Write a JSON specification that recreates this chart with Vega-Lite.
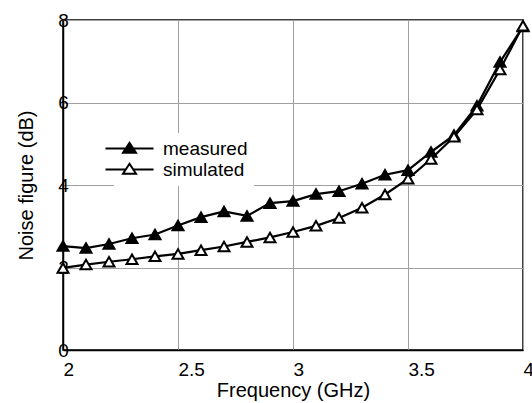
{
  "$schema": "https://vega.github.io/schema/vega-lite/v6.json",
  "width": 460,
  "height": 330,
  "autosize": {"type": "none"},
  "padding": {"left": 63, "top": 20, "right": 9, "bottom": 53},
  "background": "white",
  "config": {
    "view": {"stroke": "black", "strokeWidth": 1.5},
    "font": "Liberation Sans",
    "axis": {
      "labelFont": "Liberation Sans",
      "titleFont": "Liberation Sans",
      "labelColor": "black",
      "titleColor": "black",
      "titleFontWeight": "normal",
      "domainColor": "black",
      "domainWidth": 1.5,
      "gridColor": "#a0a0a0",
      "gridWidth": 1,
      "ticks": false,
      "tickSize": 0,
      "labelFlush": false,
      "labelOverlap": false,
      "labelBound": false
    }
  },
  "data": {
    "values": [
      {"f": 2.0, "nf": 2.52, "series": "measured"},
      {"f": 2.1, "nf": 2.47, "series": "measured"},
      {"f": 2.2, "nf": 2.57, "series": "measured"},
      {"f": 2.3, "nf": 2.71, "series": "measured"},
      {"f": 2.4, "nf": 2.80, "series": "measured"},
      {"f": 2.5, "nf": 3.02, "series": "measured"},
      {"f": 2.6, "nf": 3.22, "series": "measured"},
      {"f": 2.7, "nf": 3.36, "series": "measured"},
      {"f": 2.8, "nf": 3.25, "series": "measured"},
      {"f": 2.9, "nf": 3.56, "series": "measured"},
      {"f": 3.0, "nf": 3.61, "series": "measured"},
      {"f": 3.1, "nf": 3.78, "series": "measured"},
      {"f": 3.2, "nf": 3.85, "series": "measured"},
      {"f": 3.3, "nf": 4.03, "series": "measured"},
      {"f": 3.4, "nf": 4.25, "series": "measured"},
      {"f": 3.5, "nf": 4.36, "series": "measured"},
      {"f": 3.6, "nf": 4.80, "series": "measured"},
      {"f": 3.7, "nf": 5.21, "series": "measured"},
      {"f": 3.8, "nf": 5.92, "series": "measured"},
      {"f": 3.9, "nf": 6.98, "series": "measured"},
      {"f": 4.0, "nf": 7.84, "series": "measured"},
      {"f": 2.0, "nf": 1.99, "series": "simulated"},
      {"f": 2.1, "nf": 2.07, "series": "simulated"},
      {"f": 2.2, "nf": 2.14, "series": "simulated"},
      {"f": 2.3, "nf": 2.20, "series": "simulated"},
      {"f": 2.4, "nf": 2.27, "series": "simulated"},
      {"f": 2.5, "nf": 2.33, "series": "simulated"},
      {"f": 2.6, "nf": 2.42, "series": "simulated"},
      {"f": 2.7, "nf": 2.51, "series": "simulated"},
      {"f": 2.8, "nf": 2.62, "series": "simulated"},
      {"f": 2.9, "nf": 2.73, "series": "simulated"},
      {"f": 3.0, "nf": 2.86, "series": "simulated"},
      {"f": 3.1, "nf": 3.01, "series": "simulated"},
      {"f": 3.2, "nf": 3.20, "series": "simulated"},
      {"f": 3.3, "nf": 3.45, "series": "simulated"},
      {"f": 3.4, "nf": 3.77, "series": "simulated"},
      {"f": 3.5, "nf": 4.15, "series": "simulated"},
      {"f": 3.6, "nf": 4.63, "series": "simulated"},
      {"f": 3.7, "nf": 5.17, "series": "simulated"},
      {"f": 3.8, "nf": 5.83, "series": "simulated"},
      {"f": 3.9, "nf": 6.80, "series": "simulated"},
      {"f": 4.0, "nf": 7.86, "series": "simulated"}
    ]
  },
  "encoding": {
    "x": {
      "field": "f",
      "type": "quantitative",
      "scale": {"domain": [2, 4], "nice": false},
      "axis": {
        "values": [2, 2.5, 3, 3.5, 4],
        "format": "~g",
        "labelAlign": "left",
        "labelBaseline": "alphabetic",
        "labelPadding": 25,
        "labelFontSize": 19,
        "title": "Frequency (GHz)",
        "titleFontSize": 20,
        "titleBaseline": "alphabetic",
        "titleY": 46
      }
    },
    "y": {
      "field": "nf",
      "type": "quantitative",
      "scale": {"domain": [0, 8], "nice": false},
      "axis": {
        "values": [0, 2, 4, 6, 8],
        "labelAlign": "center",
        "labelBaseline": "middle",
        "labelPadding": 0,
        "labelFontSize": 19,
        "title": "Noise figure (dB)",
        "titleFontSize": 20,
        "titleAngle": 270,
        "titleAlign": "center",
        "titleBaseline": "alphabetic",
        "titleX": -31,
        "titleY": 165
      }
    }
  },
  "layer": [
    {
      "mark": {"type": "line", "stroke": "black", "strokeWidth": 2.2},
      "encoding": {"detail": {"field": "series"}}
    },
    {
      "mark": {"type": "point", "shape": "triangle-up", "size": 120, "filled": true, "stroke": "black", "strokeWidth": 2, "opacity": 1},
      "encoding": {
        "fill": {
          "field": "series",
          "type": "nominal",
          "scale": {"domain": ["measured", "simulated"], "range": ["black", "white"]},
          "legend": {
            "title": null,
            "orient": "none",
            "legendX": 51,
            "legendY": 113,
            "padding": 6,
            "fillColor": "white",
            "rowPadding": 0,
            "labelFont": "Liberation Sans",
            "labelFontSize": 19,
            "labelColor": "black",
            "labelOffset": 24,
            "symbolType": "M-4.8,0H-0.74M0.74,0H4.8M0,-1.14L1.3,0.86H-1.3Z",
            "symbolSize": 100,
            "symbolStrokeColor": "black",
            "symbolStrokeWidth": 2,
            "symbolOpacity": 1
          }
        }
      }
    }
  ]
}
